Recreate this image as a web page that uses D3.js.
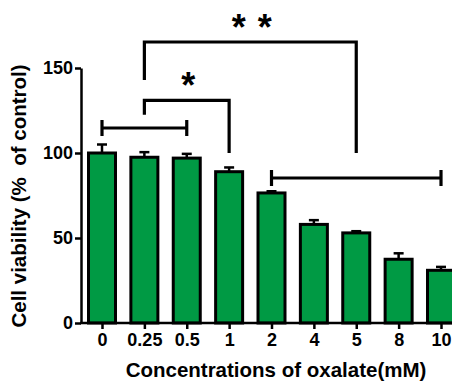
<!DOCTYPE html>
<html>
<head>
<meta charset="utf-8">
<script src="https://cdn.jsdelivr.net/npm/d3@7"></script>
<style>
  body { margin: 0; background: #fff; }
  svg { display: block; font-family: "Liberation Sans", Arial, sans-serif; font-weight: bold; }
</style>
</head>
<body>
<svg id="chart" width="452" height="381"></svg>
<script>
// Data
const concentrations = ["0", "0.25", "0.5", "1", "2", "4", "5", "8", "10"];
const viability = [100, 97.5, 97, 89, 76.5, 58, 53, 37.5, 31];
const errorUp = [5, 3, 2.5, 2.5, 1, 2.5, 1, 3.5, 2];
const yTicks = [0, 50, 100, 150];

// significance brackets (values in % units)
const rangeBrackets = [
  { from: "0", to: "0.5", level: 114.7 },
  { from: "2", to: "10", level: 85.3 }
];
const starBrackets = [
  { from: "0.25", to: "1", top: 131, leftEnd: 122.5, rightEnd: 100, label: "*" },
  { from: "0.25", to: "5", top: 165.3, leftEnd: 143, rightEnd: 100, label: "* *" }
];

const svg = d3.select("#chart");
const axisX = 81;

// Scales
const x = d3.scalePoint().domain(concentrations).range([102, 441]);
const y = d3.scaleLinear().domain([0, 150]).range([323, 68]);
const barW = 27;

// Bars
svg.selectAll(".bar")
  .data(concentrations)
  .enter()
  .append("rect")
  .attr("class", "bar")
  .attr("x", (d) => x(d) - barW / 2)
  .attr("y", (d, i) => y(viability[i]))
  .attr("width", barW)
  .attr("height", (d, i) => y(0) - y(viability[i]))
  .style("fill", "#009a44")
  .style("stroke", "#000")
  .style("stroke-width", 3);

// Error bars (upper only)
const err = svg.append("g").style("stroke", "#000").style("stroke-width", 2.5);
concentrations.forEach((c, i) => {
  err.append("line")
    .attr("x1", x(c)).attr("x2", x(c))
    .attr("y1", y(viability[i])).attr("y2", y(viability[i] + errorUp[i]));
  err.append("line")
    .attr("x1", x(c) - 5).attr("x2", x(c) + 5)
    .attr("y1", y(viability[i] + errorUp[i])).attr("y2", y(viability[i] + errorUp[i]));
});

// Y axis
const yAxis = svg.append("g")
  .attr("transform", `translate(${axisX},0)`)
  .call(d3.axisLeft(y).tickValues(yTicks).tickSize(6).tickSizeOuter(0).tickPadding(2));
yAxis.select(".domain").style("stroke-width", 2.5);
yAxis.selectAll(".tick line").style("stroke-width", 2.5);
yAxis.selectAll("text").style("font-size", "18px").style("font-weight", "bold").style("fill", "#000").style("font-family", "Liberation Sans, Arial, sans-serif");

// X axis
const xAxis = svg.append("g")
  .attr("transform", `translate(0,${y(0)})`)
  .call(d3.axisBottom(x).tickSize(6).tickSizeOuter(0).tickPadding(4));
xAxis.select(".domain").remove();
xAxis.selectAll(".tick line").style("stroke-width", 2.5);
xAxis.selectAll("text").style("font-size", "18px").style("font-weight", "bold").style("fill", "#000").style("font-family", "Liberation Sans, Arial, sans-serif");
svg.append("line")
  .attr("x1", axisX - 1).attr("x2", 452)
  .attr("y1", y(0)).attr("y2", y(0))
  .style("stroke", "#000").style("stroke-width", 2.5);

// Range brackets with end caps
const br = svg.append("g").style("stroke", "#000").style("stroke-width", 3.2).style("fill", "none");
rangeBrackets.forEach((b) => {
  const yy = y(b.level);
  br.append("line").attr("x1", x(b.from)).attr("x2", x(b.to)).attr("y1", yy).attr("y2", yy);
  [b.from, b.to].forEach((c) => {
    br.append("line").attr("x1", x(c)).attr("x2", x(c)).attr("y1", yy - 8).attr("y2", yy + 8);
  });
});

// Significance brackets
starBrackets.forEach((b) => {
  const path = d3.path();
  path.moveTo(x(b.from), y(b.leftEnd));
  path.lineTo(x(b.from), y(b.top));
  path.lineTo(x(b.to), y(b.top));
  path.lineTo(x(b.to), y(b.rightEnd));
  br.append("path").attr("d", path.toString());
  svg.append("text")
    .attr("x", (x(b.from) + x(b.to)) / 2 + 2)
    .attr("y", y(b.top) - 2)
    .attr("text-anchor", "middle")
    .style("font-size", "36px")
    .style("font-weight", "bold")
    .style("letter-spacing", "1px")
    .text(b.label);
});

// Axis titles
svg.append("text")
  .attr("x", 276)
  .attr("y", 377)
  .attr("text-anchor", "middle")
  .style("font-size", "20.5px")
  .text("Concentrations of oxalate(mM)");

svg.append("text")
  .attr("transform", "translate(26,196) rotate(-90)")
  .attr("text-anchor", "middle")
  .attr("xml:space", "preserve")
  .style("font-size", "20.5px")
  .style("white-space", "pre")
  .text("Cell viability (%  of control)");
</script>
</body>
</html>
